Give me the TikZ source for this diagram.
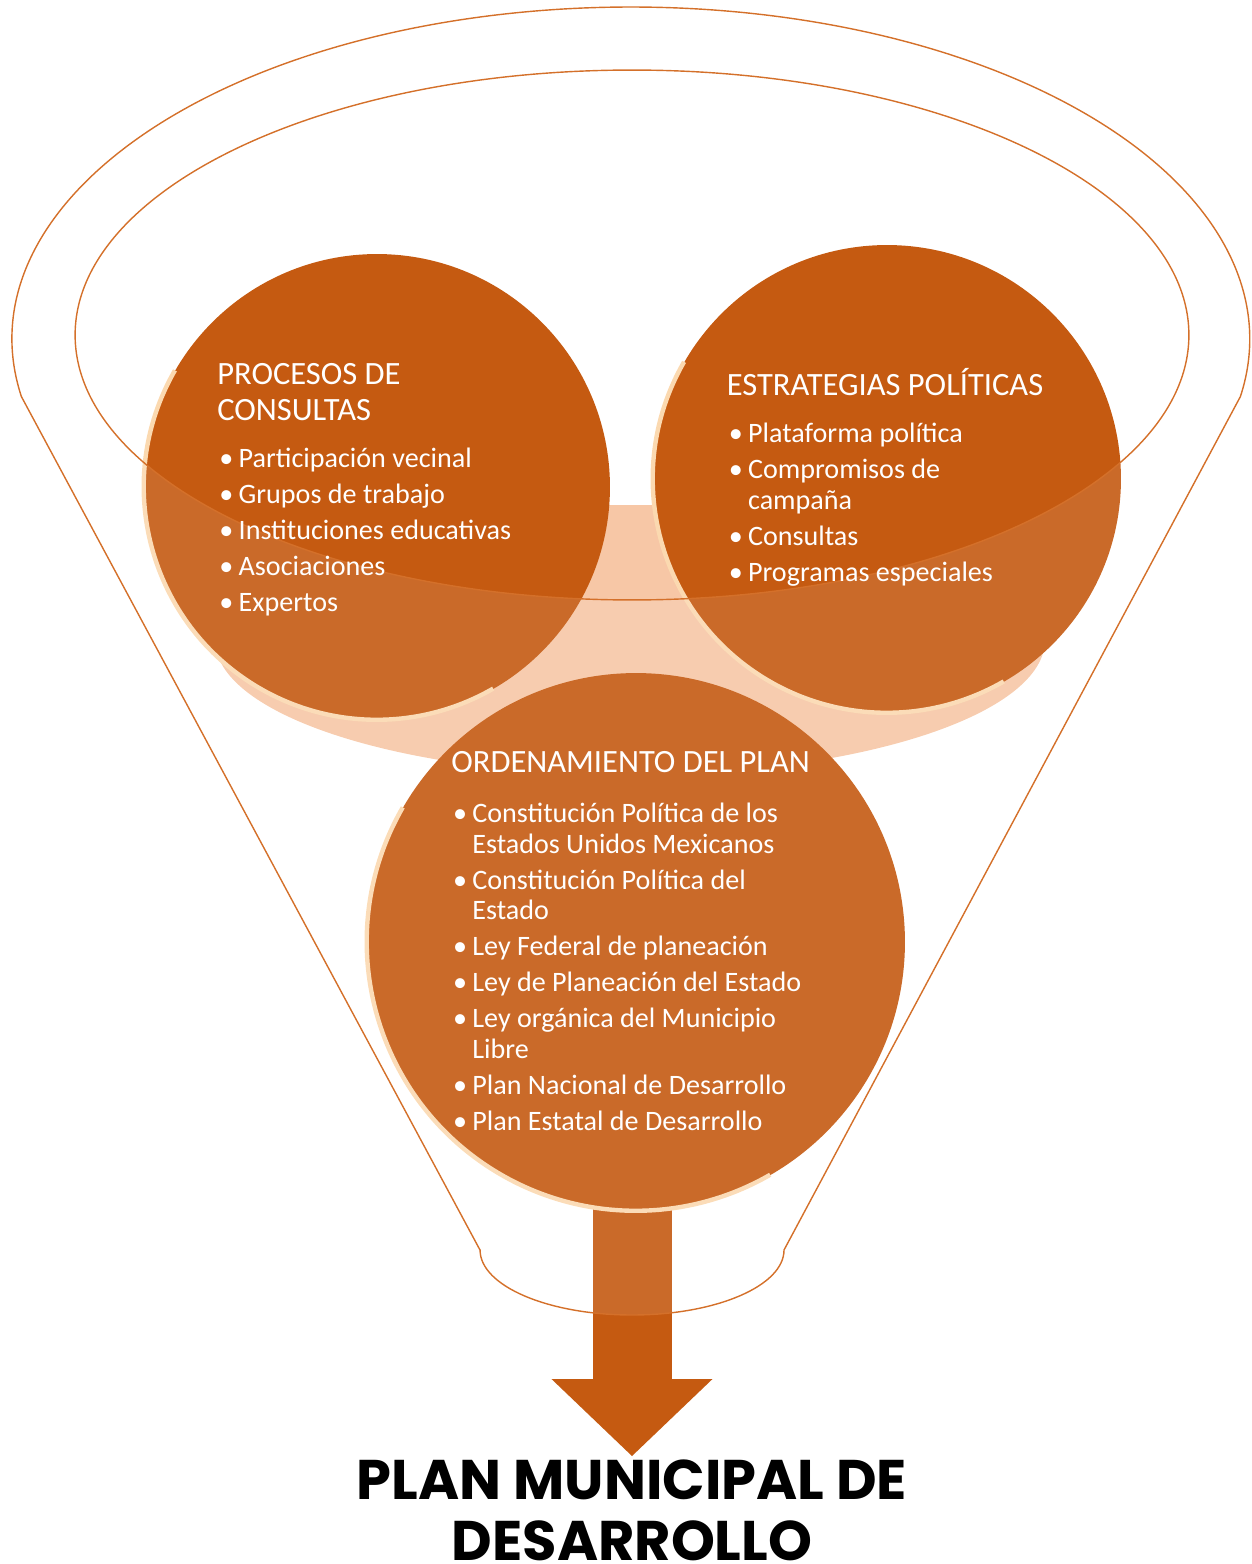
\documentclass[tikz,border=0pt]{standalone}
\usepackage{fontspec}
\setmainfont{Carlito}
\newfontfamily\titlefont{Poppins}
\usetikzlibrary{positioning,backgrounds,arrows.meta}

\definecolor{naranja}{HTML}{C55A11}
\definecolor{contorno}{HTML}{D4702A}
\definecolor{durazno}{HTML}{F7C7A6}
\definecolor{brillo}{HTML}{FBD9B0}

\newcommand{\punto}[1]{\makebox[11pt][l]{\textbullet}#1}
\newcommand{\sigue}[1]{\hspace*{11pt}#1}

\begin{document}
\begin{tikzpicture}[x=0.02cm, y=-0.02cm,
    bola/.style={circle, fill=naranja, inner sep=0pt},
    titulillo/.style={text=white, anchor=base west, inner sep=0pt, align=left, font=\fontsize{18.5}{20.5}\selectfont},
    lista/.style={text=white, anchor=base west, inner sep=0pt, align=left, font=\fontsize{16}{17.5}\selectfont}]
    \useasboundingbox (0,0) rectangle (1251,1564);

    \node (consultas) [bola, minimum size=9.32cm] at (377,487) {};
    \node (estrategias) [bola, minimum size=9.36cm] at (887,479) {};
    \node (ordenamiento) [bola, minimum size=10.76cm] at (636,942) {};
    % el ancla base es la ultima linea
    \node (pmd) [anchor=base, inner sep=0pt, align=center, font=\titlefont\bfseries\fontsize{31.8}{34.7}\selectfont] at (632,1560) {PLAN MUNICIPAL DE\\DESARROLLO};

    \begin{scope}[on background layer]
        \fill[durazno] (630,640) ellipse [x radius=8.3cm, y radius=2.7cm];
        \draw[naranja, line width=1.58cm, shorten >=0.06cm, -{Triangle[length=1.54cm, width=3.22cm, line width=0pt]}] (pmd.north |- ordenamiento.center) -- (pmd.north);
    \end{scope}

    % brillo en el borde de las bolas
    \foreach \b/\r in {consultas/4.66, estrategias/4.68, ordenamiento/5.38}
        \draw[brillo, line width=2.5pt] (\b.150) arc[start angle=150, end angle=300, radius=\r cm];

    % embudo
    \path[draw=contorno, line width=.8pt, fill=white, fill opacity=.1, even odd rule]
        (480,1250) -- (21.4,396.6) arc[start angle=190, end angle=-10, x radius=12.38cm, y radius=6.64cm]
        -- (784,1250) arc[start angle=0, end angle=-180, x radius=3.04cm, y radius=1.3cm] -- cycle
        (632,335) ellipse [x radius=11.14cm, y radius=5.3cm];

    \node (tconsultas) [titulillo] at (217,420.7) {PROCESOS DE\\CONSULTAS};
    \node (lconsultas) [lista] at (219,611.7) {\punto{Participación vecinal}\\[3pt]
        \punto{Grupos de trabajo}\\[3pt]
        \punto{Instituciones educativas}\\[3pt]
        \punto{Asociaciones}\\[3pt]
        \punto{Expertos}};

    \node (testrategias) [titulillo] at (726.5,395) {ESTRATEGIAS POLÍTICAS};
    \node (lestrategias) [lista] at (728.4,581.7) {\punto{Plataforma política}\\[3pt]
        \punto{Compromisos de}\\
        \sigue{campaña}\\[3pt]
        \punto{Consultas}\\[3pt]
        \punto{Programas especiales}};

    \node (tordenamiento) [titulillo] at (451,772.3) {ORDENAMIENTO DEL PLAN};
    \node (lordenamiento) [lista] at (452.7,1130.7) {\punto{Constitución Política de los}\\
        \sigue{Estados Unidos Mexicanos}\\[3pt]
        \punto{Constitución Política del}\\
        \sigue{Estado}\\[3pt]
        \punto{Ley Federal de planeación}\\[3pt]
        \punto{Ley de Planeación del Estado}\\[3pt]
        \punto{Ley orgánica del Municipio}\\
        \sigue{Libre}\\[3pt]
        \punto{Plan Nacional de Desarrollo}\\[3pt]
        \punto{Plan Estatal de Desarrollo}};
\end{tikzpicture}
\end{document}
